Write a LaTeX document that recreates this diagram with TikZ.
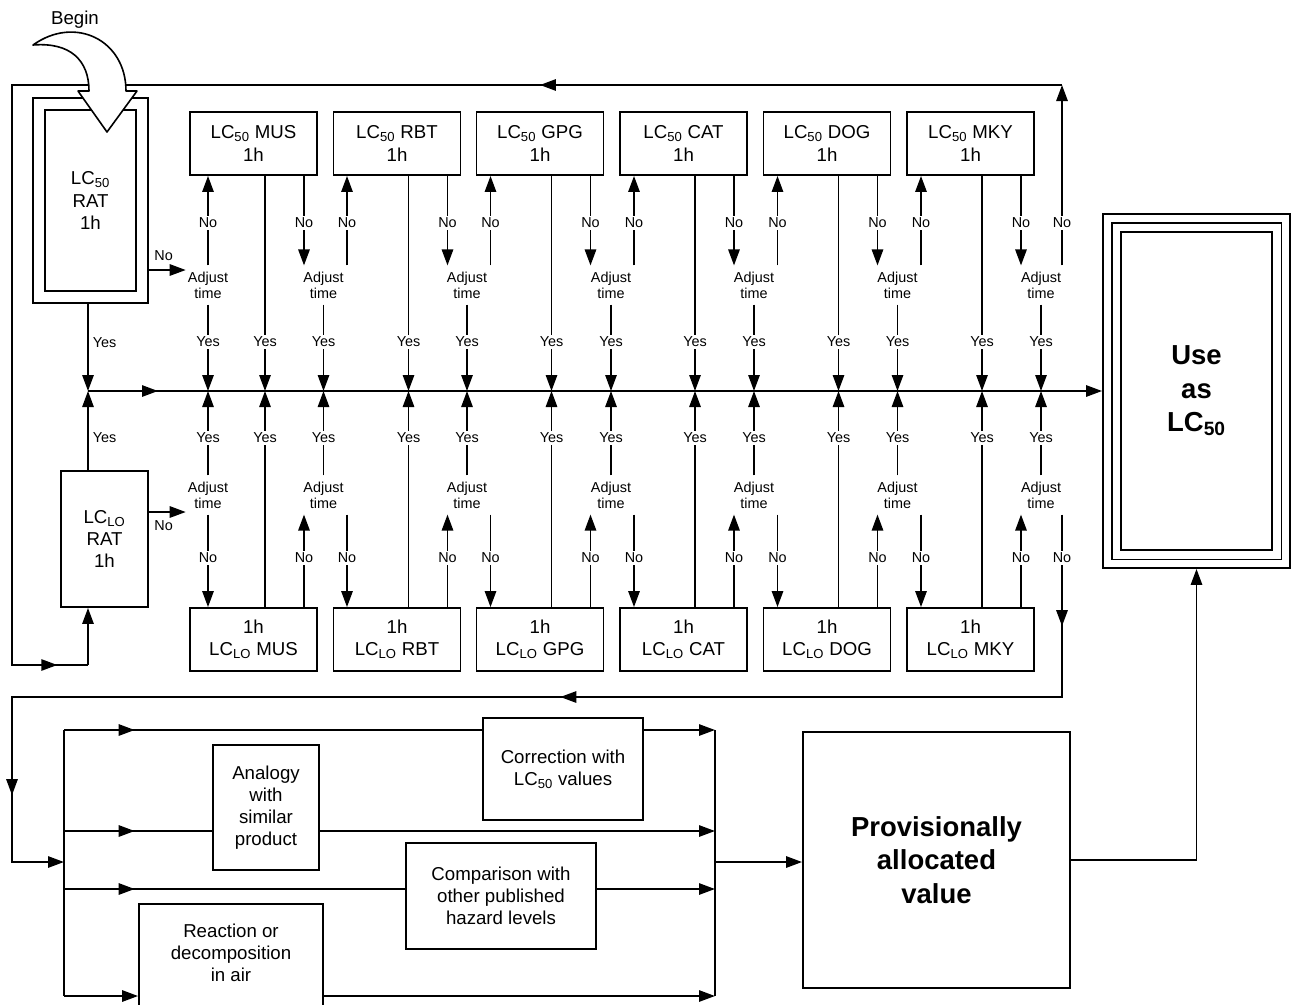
\documentclass[tikz,border=0pt]{standalone}
\usepackage{fontspec}
\setmainfont{Liberation Sans}
\usetikzlibrary{arrows.meta,decorations.markings}

\begin{document}
\begin{tikzpicture}[x=0.75pt,y=-0.75pt,line width=1.4pt,
		>={Triangle[length=12pt,width=8.5pt]},
		box/.style={draw,align=center,inner sep=0pt,font=\fontsize{14}{16.6}\selectfont},
		animal/.style={box,minimum width=95.25pt,minimum height=47.25pt},
		adjust/.style={align=center,inner xsep=1pt,inner ysep=4pt,font=\fontsize{10.8}{12}\selectfont},
		lbl/.style={fill=white,inner sep=1.5pt,font=\fontsize{10.8}{12}\selectfont},
		side/.style={inner sep=3pt,font=\fontsize{10.8}{12}\selectfont},
		big/.style={draw,align=center,inner sep=0pt,font=\bfseries\fontsize{20.6}{25}\selectfont},
		mid/.style={postaction={decorate,decoration={markings,mark=at position #1 with {\arrow{Triangle[length=12pt,width=8.5pt]}}}}}]
			
			\useasboundingbox (0,0) rectangle (1296,1004);
			\clip (0,0) rectangle (1296,1004);
			
			\node[box,minimum width=86.25pt,minimum height=153.75pt] (rat50) at (90.5,200.5) {LC\textsubscript{50}\\RAT\\1h};
			\draw ([shift={(13,13)}]rat50.north west) rectangle ([shift={(-13,-13)}]rat50.south east);
			\node[box,minimum width=65.25pt,minimum height=102pt] (ratlo) at (104.5,539) {LC\textsubscript{LO}\\RAT\\1h};
			
			\node[animal] (mus50) at (253.5,143.5) {LC\textsubscript{50} MUS\\1h};
			\node[animal] (rbt50) at (397,143.5) {LC\textsubscript{50} RBT\\1h};
			\node[animal] (gpg50) at (540,143.5) {LC\textsubscript{50} GPG\\1h};
			\node[animal] (cat50) at (683.5,143.5) {LC\textsubscript{50} CAT\\1h};
			\node[animal] (dog50) at (827,143.5) {LC\textsubscript{50} DOG\\1h};
			\node[animal] (mky50) at (970.5,143.5) {LC\textsubscript{50} MKY\\1h};
			
			\node[animal] (muslo) at (253.5,639.5) {1h\\LC\textsubscript{LO} MUS};
			\node[animal] (rbtlo) at (397,639.5) {1h\\LC\textsubscript{LO} RBT};
			\node[animal] (gpglo) at (540,639.5) {1h\\LC\textsubscript{LO} GPG};
			\node[animal] (catlo) at (683.5,639.5) {1h\\LC\textsubscript{LO} CAT};
			\node[animal] (doglo) at (827,639.5) {1h\\LC\textsubscript{LO} DOG};
			\node[animal] (mkylo) at (970.5,639.5) {1h\\LC\textsubscript{LO} MKY};
			
			\node[adjust] (at0) at (208,285) {Adjust\\time};
			\node[adjust] (at1) at (323.5,285) {Adjust\\time};
			\node[adjust] (at2) at (467,285) {Adjust\\time};
			\node[adjust] (at3) at (611,285) {Adjust\\time};
			\node[adjust] (at4) at (754,285) {Adjust\\time};
			\node[adjust] (at5) at (897.5,285) {Adjust\\time};
			\node[adjust] (at6) at (1041,285) {Adjust\\time};
			
			\node[adjust] (ab0) at (208,495) {Adjust\\time};
			\node[adjust] (ab1) at (323.5,495) {Adjust\\time};
			\node[adjust] (ab2) at (467,495) {Adjust\\time};
			\node[adjust] (ab3) at (611,495) {Adjust\\time};
			\node[adjust] (ab4) at (754,495) {Adjust\\time};
			\node[adjust] (ab5) at (897.5,495) {Adjust\\time};
			\node[adjust] (ab6) at (1041,495) {Adjust\\time};
			
			\node[big,minimum width=140.25pt,minimum height=265.5pt] (use) at (1196.5,391) {Use\\as\\LC\textsubscript{50}};
			\draw ([shift={(9.5,9.5)}]use.north west) rectangle ([shift={(-9.5,-9.5)}]use.south east);
			\draw ([shift={(19,19)}]use.north west) rectangle ([shift={(-19,-19)}]use.south east);
			
			\coordinate (jn) at (88,391);
			\draw[->,mid=52.5pt] (jn) -- (use.west |- jn);
			
			\draw[->] (rat50.south -| jn) -- (jn) node[side,pos=.44,right]{Yes};
			\draw[->] (ratlo.north -| jn) -- (jn) node[side,pos=.41,right]{Yes};
			\draw[->] (rat50.east |- 0,270) -- (at0.west |- 0,270) node[side,pos=.4,above=3pt]{No};
			\draw[->] (ratlo.east |- 0,512) -- (ab0.west |- 0,512) node[side,pos=.4,below=3pt]{No};
			
			\draw[->] (at0.south) -- (208,342) node[lbl]{Yes} -- (208,391);
			\draw[->] (at1.south) -- (323.5,342) node[lbl]{Yes} -- (323.5,391);
			\draw[->] (at2.south) -- (467,342) node[lbl]{Yes} -- (467,391);
			\draw[->] (at3.south) -- (611,342) node[lbl]{Yes} -- (611,391);
			\draw[->] (at4.south) -- (754,342) node[lbl]{Yes} -- (754,391);
			\draw[->] (at5.south) -- (897.5,342) node[lbl]{Yes} -- (897.5,391);
			\draw[->] (at6.south) -- (1041,342) node[lbl]{Yes} -- (1041,391);
			
			\draw[->] (ab0.north) -- (208,438) node[lbl]{Yes} -- (208,391);
			\draw[->] (ab1.north) -- (323.5,438) node[lbl]{Yes} -- (323.5,391);
			\draw[->] (ab2.north) -- (467,438) node[lbl]{Yes} -- (467,391);
			\draw[->] (ab3.north) -- (611,438) node[lbl]{Yes} -- (611,391);
			\draw[->] (ab4.north) -- (754,438) node[lbl]{Yes} -- (754,391);
			\draw[->] (ab5.north) -- (897.5,438) node[lbl]{Yes} -- (897.5,391);
			\draw[->] (ab6.north) -- (1041,438) node[lbl]{Yes} -- (1041,391);
			
			\draw[->] (mus50.south -| 265,0) -- (265,342) node[lbl]{Yes} -- (265,391);
			\draw[->] (rbt50.south -| 408.5,0) -- (408.5,342) node[lbl]{Yes} -- (408.5,391);
			\draw[->] (gpg50.south -| 551.5,0) -- (551.5,342) node[lbl]{Yes} -- (551.5,391);
			\draw[->] (cat50.south -| 695,0) -- (695,342) node[lbl]{Yes} -- (695,391);
			\draw[->] (dog50.south -| 838.5,0) -- (838.5,342) node[lbl]{Yes} -- (838.5,391);
			\draw[->] (mky50.south -| 982,0) -- (982,342) node[lbl]{Yes} -- (982,391);
			
			\draw[->] (muslo.north -| 265,0) -- (265,438) node[lbl]{Yes} -- (265,391);
			\draw[->] (rbtlo.north -| 408.5,0) -- (408.5,438) node[lbl]{Yes} -- (408.5,391);
			\draw[->] (gpglo.north -| 551.5,0) -- (551.5,438) node[lbl]{Yes} -- (551.5,391);
			\draw[->] (catlo.north -| 695,0) -- (695,438) node[lbl]{Yes} -- (695,391);
			\draw[->] (doglo.north -| 838.5,0) -- (838.5,438) node[lbl]{Yes} -- (838.5,391);
			\draw[->] (mkylo.north -| 982,0) -- (982,438) node[lbl]{Yes} -- (982,391);
			
			\draw[->] (at0.north) -- (208,223) node[lbl]{No} -- (mus50.south -| 208,0);
			\draw[->] (at1.north -| 347,0) -- (347,223) node[lbl]{No} -- (rbt50.south -| 347,0);
			\draw[->] (at2.north -| 490.5,0) -- (490.5,223) node[lbl]{No} -- (gpg50.south -| 490.5,0);
			\draw[->] (at3.north -| 634,0) -- (634,223) node[lbl]{No} -- (cat50.south -| 634,0);
			\draw[->] (at4.north -| 777.5,0) -- (777.5,223) node[lbl]{No} -- (dog50.south -| 777.5,0);
			\draw[->] (at5.north -| 921,0) -- (921,223) node[lbl]{No} -- (mky50.south -| 921,0);
			
			\draw[->] (mus50.south -| 304,0) -- (304,223) node[lbl]{No} -- (at1.north -| 304,0);
			\draw[->] (rbt50.south -| 447.5,0) -- (447.5,223) node[lbl]{No} -- (at2.north -| 447.5,0);
			\draw[->] (gpg50.south -| 590.5,0) -- (590.5,223) node[lbl]{No} -- (at3.north -| 590.5,0);
			\draw[->] (cat50.south -| 734,0) -- (734,223) node[lbl]{No} -- (at4.north -| 734,0);
			\draw[->] (dog50.south -| 877.5,0) -- (877.5,223) node[lbl]{No} -- (at5.north -| 877.5,0);
			\draw[->] (mky50.south -| 1021,0) -- (1021,223) node[lbl]{No} -- (at6.north -| 1021,0);
			
			\draw[->] (ab0.south) -- (208,558) node[lbl]{No} -- (muslo.north -| 208,0);
			\draw[->] (ab1.south -| 347,0) -- (347,558) node[lbl]{No} -- (rbtlo.north -| 347,0);
			\draw[->] (ab2.south -| 490.5,0) -- (490.5,558) node[lbl]{No} -- (gpglo.north -| 490.5,0);
			\draw[->] (ab3.south -| 634,0) -- (634,558) node[lbl]{No} -- (catlo.north -| 634,0);
			\draw[->] (ab4.south -| 777.5,0) -- (777.5,558) node[lbl]{No} -- (doglo.north -| 777.5,0);
			\draw[->] (ab5.south -| 921,0) -- (921,558) node[lbl]{No} -- (mkylo.north -| 921,0);
			
			\draw[->] (muslo.north -| 304,0) -- (304,558) node[lbl]{No} -- (ab1.south -| 304,0);
			\draw[->] (rbtlo.north -| 447.5,0) -- (447.5,558) node[lbl]{No} -- (ab2.south -| 447.5,0);
			\draw[->] (gpglo.north -| 590.5,0) -- (590.5,558) node[lbl]{No} -- (ab3.south -| 590.5,0);
			\draw[->] (catlo.north -| 734,0) -- (734,558) node[lbl]{No} -- (ab4.south -| 734,0);
			\draw[->] (doglo.north -| 877.5,0) -- (877.5,558) node[lbl]{No} -- (ab5.south -| 877.5,0);
			\draw[->] (mkylo.north -| 1021,0) -- (1021,558) node[lbl]{No} -- (ab6.south -| 1021,0);
			
			\draw[->] (at6.north -| 1062,0) -- (1062,223) node[lbl]{No} -- (1062,85) coordinate (ne);
			\draw[mid=0.306,mid=0.982] (ne) -- (12,85) coordinate (nw) -- (12,665) coordinate (sw) -- (88,665) coordinate (se);
			\draw[->] (se) -- (ratlo.south -| se);
			
			\coordinate (bin) at (64,862);
			\draw[->,mid=0.077,mid=0.472,mid=0.918] (ab6.south -| 1062,0) -- (1062,558) node[lbl]{No} -- (1062,697) -- (12,697) -- (12,862) -- (bin);
			
			\node[box,minimum width=120pt,minimum height=76.5pt] (corr) at (563,769) {Correction with\\LC\textsubscript{50} values};
			\node[box,minimum width=79.5pt,minimum height=93.75pt] (analog) at (266,807.5) {Analogy\\with\\similar\\product};
			\node[box,minimum width=142.5pt,minimum height=79.5pt] (comp) at (501,896) {Comparison with\\other published\\hazard levels};
			\node[box,minimum width=138pt,minimum height=91.5pt,anchor=north] (react) at (231,903) {};
			\node[align=center,font=\fontsize{14}{16.6}\selectfont] (reacttext) at (231,953) {Reaction or\\decomposition\\in air};
			\node[big,minimum width=200.25pt,minimum height=192pt] (prov) at (936.5,860) {Provisionally\\allocated\\value};
			
			\coordinate (bl1) at (64,730);
			\coordinate (bl2) at (64,831);
			\coordinate (bl3) at (64,889);
			\coordinate (bl4) at (64,996);
			\coordinate (br1) at (715,730);
			\coordinate (br2) at (715,831);
			\coordinate (br3) at (715,889);
			\coordinate (br4) at (715,996);
			\coordinate (bout) at (715,862);
			
			\draw (bl1) -- (bl4);
			\draw (br1) -- (br4);
			\draw[mid=53pt] (bl1) -- (corr.west |- bl1);
			\draw[->] (corr.east |- br1) -- (br1);
			\draw[mid=53pt] (bl2) -- (analog.west |- bl2);
			\draw[->] (analog.east |- br2) -- (br2);
			\draw[mid=53pt] (bl3) -- (comp.west |- bl3);
			\draw[->] (comp.east |- br3) -- (br3);
			\draw[->] (bl4) -- (react.west |- bl4);
			\draw[->] (react.east |- br4) -- (br4);
			\draw[->] (bout) -- (prov.west |- bout);
			\draw[->] (prov.east) -| (use.south);
			
			\node[font=\fontsize{14}{16}\selectfont] (begin) at (75,20) {Begin};
			\draw[fill=white,line width=1.2pt,line join=round] (33,45) .. controls (75,15) and (126,40) .. (126,91) -- (137,91) -- (107,132) -- (78,91) -- (89,91) .. controls (89,60) and (70,42) .. (33,45) -- cycle;
			
		\end{tikzpicture}
\end{document}
